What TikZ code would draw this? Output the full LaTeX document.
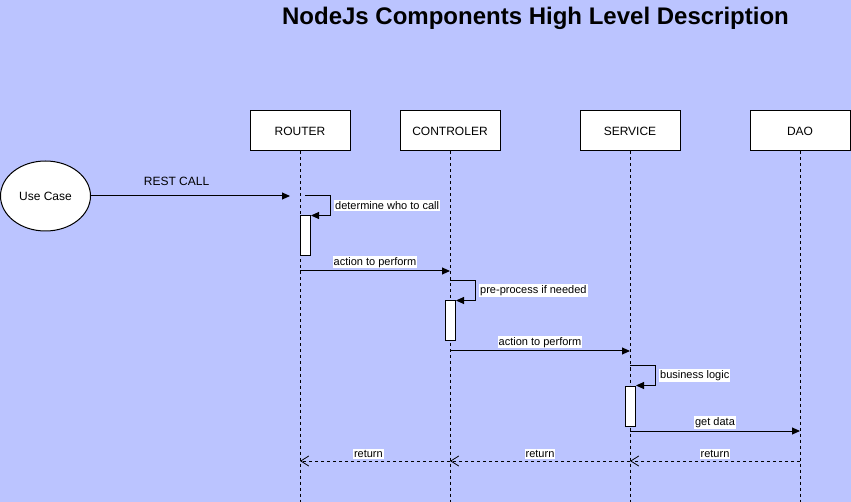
\documentclass[tikz,border=0pt]{standalone}
\usepackage{fontspec}
\setmainfont{Liberation Sans}
\usepackage{xcolor}
\usepackage{tikz}
\usetikzlibrary{arrows.meta,positioning,calc,shapes.geometric}
\definecolor{bgblue}{RGB}{187,196,255}

\begin{document}
\begin{tikzpicture}[x=1pt, y=-1pt,
    lifebox/.style={draw, rectangle, fill=white, line width=1pt, minimum width=100pt, minimum height=40pt, font=\fontsize{12}{14}\selectfont},
    activbox/.style={draw, rectangle, fill=white, line width=1pt, minimum width=10pt, minimum height=40pt, inner sep=0pt},
    lifeline/.style={dash pattern=on 3pt off 3pt, line width=1pt},
    call/.style={-{Triangle[length=8pt, width=7pt]}, line width=1pt},
    ret/.style={-{Straight Barb[length=8pt, width=10pt]}, dash pattern=on 3pt off 3pt, line width=0.8pt},
    lbl/.style={fill=white, inner xsep=1pt, inner ysep=1pt, font=\fontsize{11}{13}\selectfont}]

    % Background
    \fill[bgblue] (0,0) rectangle (851,502);
    \useasboundingbox (0,0) rectangle (851,502);
    \coordinate (bottom) at (0,502);

    % Title
    \node[anchor=base, font=\bfseries\fontsize{24}{28}\selectfont] (title) at (535.5,25) {NodeJs Components High Level Description};

    % Participants
    \node[lifebox] (router) at (300,131) {ROUTER};
    \node[lifebox] (controler) at (450,131) {CONTROLER};
    \node[lifebox] (service) at (630,131) {SERVICE};
    \node[lifebox] (dao) at (800,131) {DAO};

    % Lifelines
    \draw[lifeline] (router.south) -- (router.south |- bottom);
    \draw[lifeline] (controler.south) -- (controler.south |- bottom);
    \draw[lifeline] (service.south) -- (service.south |- bottom);
    \draw[lifeline] (dao.south) -- (dao.south |- bottom);

    % Use case
    \node[draw, ellipse, fill=white, line width=1pt, minimum width=90pt, minimum height=70pt, inner sep=0pt, font=\fontsize{12}{14}\selectfont] (usecase) at (45.5,196) {Use Case};

    % Activations
    \node[activbox] (routeract) at (305.5,236) {};
    \node[activbox] (controleract) at (450.5,321) {};
    \node[activbox] (serviceact) at (630.5,406) {};

    % Points on the lifelines
    \coordinate (restend) at (290,196);
    \coordinate (routerself) at (305,196);
    \coordinate (routerout) at (300,271);
    \coordinate (controlerin) at (450,271);
    \coordinate (controlerself) at (450,281);
    \coordinate (controlerout) at (450,351);
    \coordinate (servicein) at (630,351);
    \coordinate (serviceself) at (630,366);
    \coordinate (serviceout) at (630,431);
    \coordinate (daoin) at (800,431);
    \coordinate (daoret) at (800,461);
    \coordinate (serviceret) at (630,461);
    \coordinate (controlerret) at (450,461);
    \coordinate (routerret) at (300,461);

    % Calls
    \draw[call] (usecase.east) -- node[pos=0.43, yshift=15pt, font=\fontsize{12}{14}\selectfont] {REST CALL} (restend);
    \draw[call] (routerself) -- ++(25,0) |- (routeract.north east);
    \node[lbl, anchor=west] (routernote) at (334,205.5) {determine who to call};
    \draw[call] (routerout) -- node[lbl, above=2pt] {action to perform} (controlerin);
    \draw[call] (controlerself) -- ++(25,0) |- (controleract.north east);
    \node[lbl, anchor=west] (controlernote) at (479,290.5) {pre-process if needed};
    \draw[call] (controlerout) -- node[lbl, above=2pt] {action to perform} (servicein);
    \draw[call] (serviceself) -- ++(25,0) |- (serviceact.north east);
    \node[lbl, anchor=west] (servicenote) at (659,375.5) {business logic};
    \draw[call] (serviceout) -- node[lbl, above=2pt] {get data} (daoin);

    % Returns
    \draw[ret] (daoret) -- node[lbl, above=2pt] {return} (serviceret);
    \draw[ret] (serviceret) -- node[lbl, above=2pt] {return} (controlerret);
    \draw[ret] (controlerret) -- node[lbl, above=2pt, pos=0.544] {return} (routerret);
\end{tikzpicture}
\end{document}
